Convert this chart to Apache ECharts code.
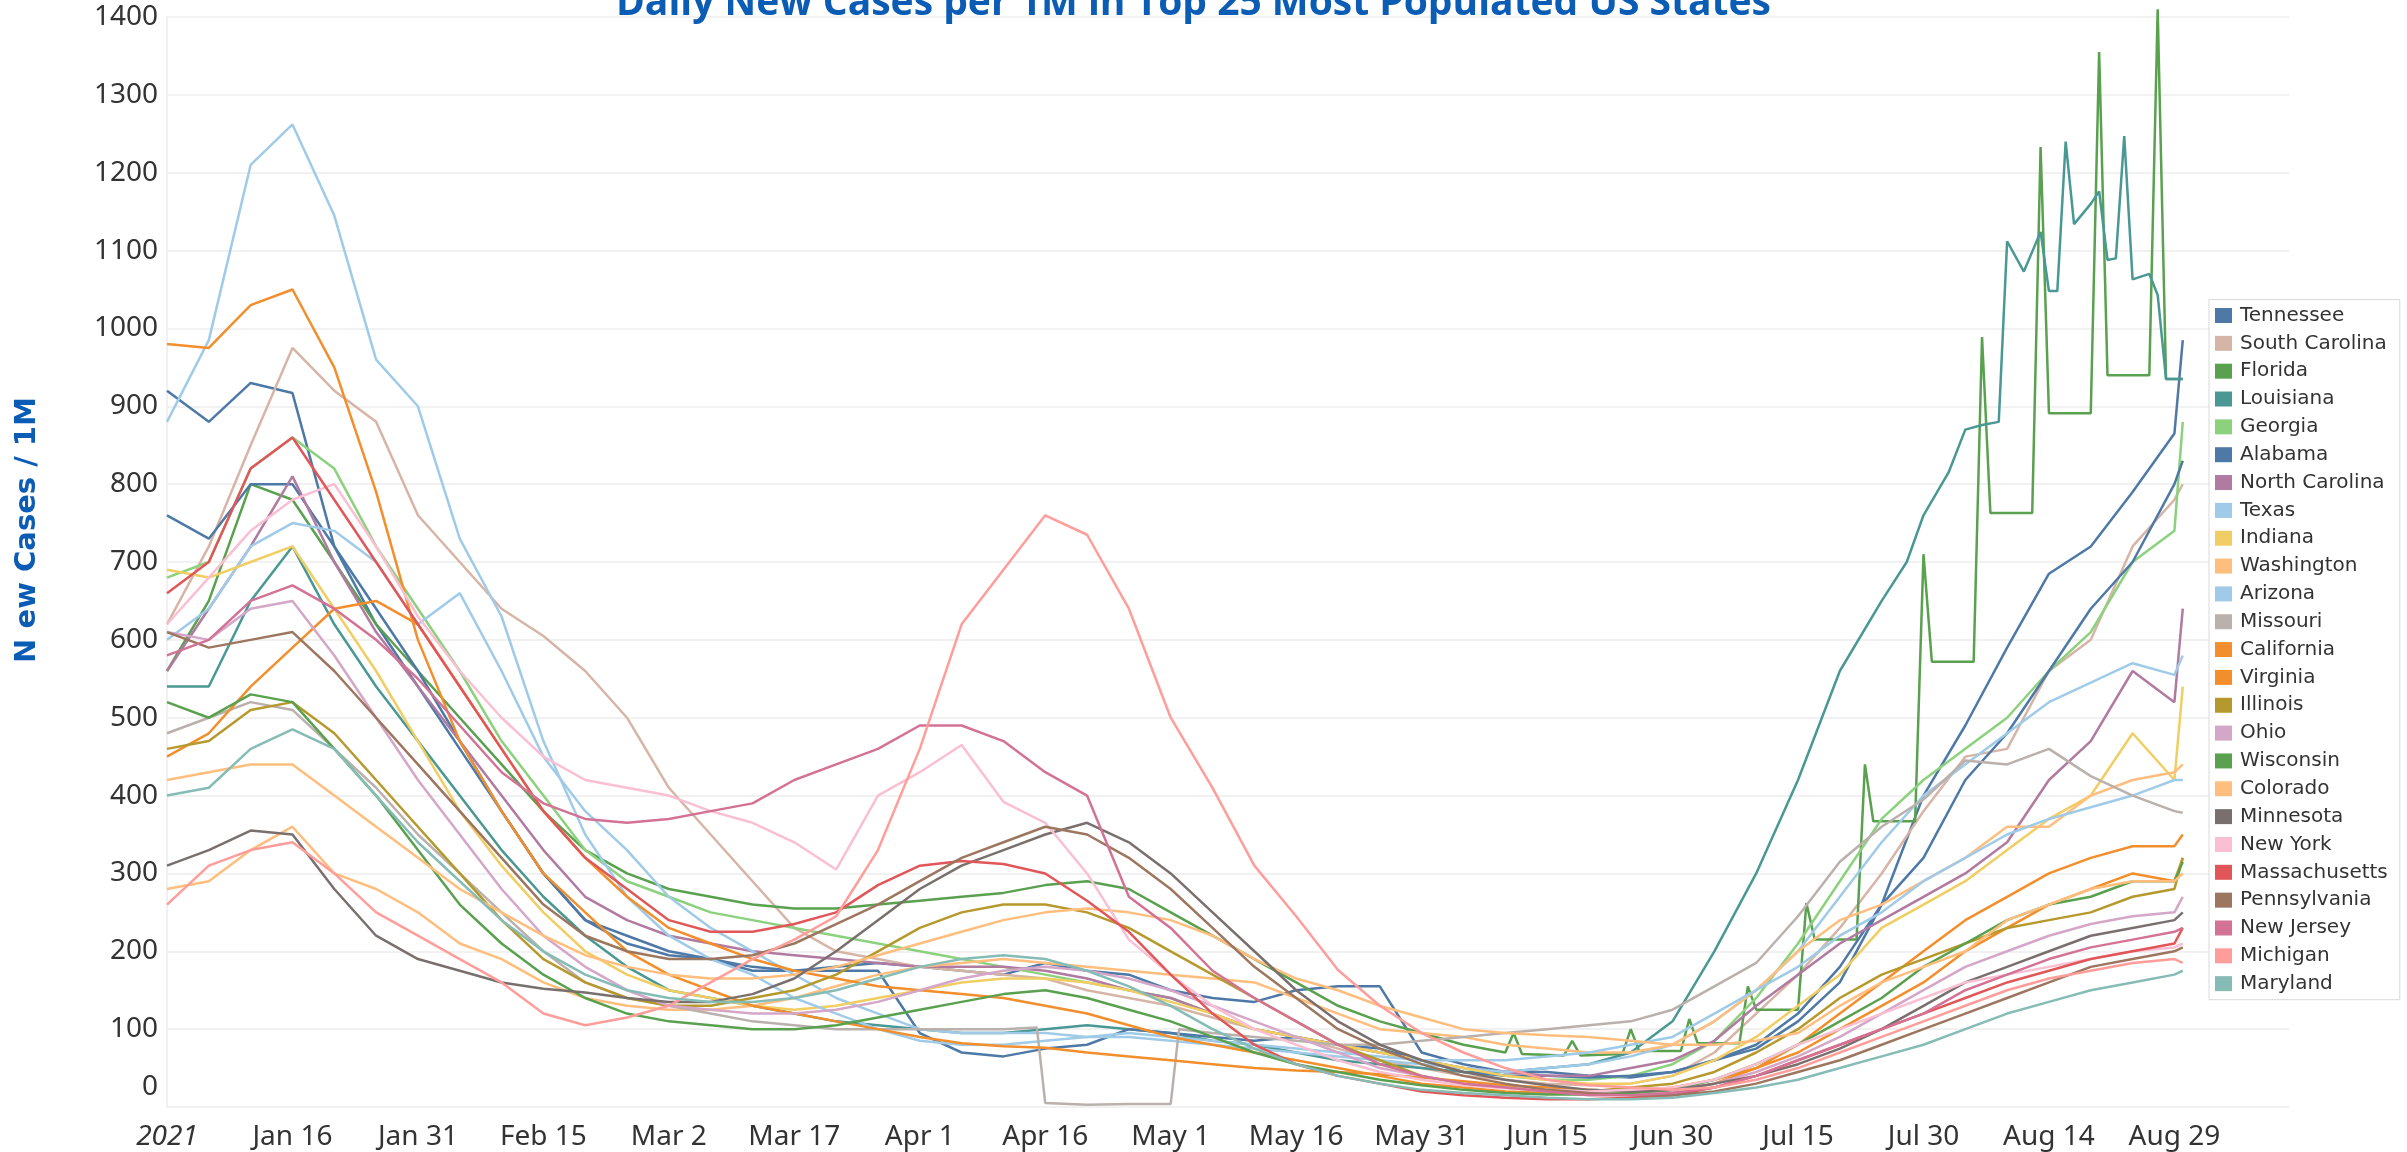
<!DOCTYPE html>
<html>
<head>
<meta charset="utf-8">
<title>Daily New Cases per 1M</title>
<script src="https://cdn.jsdelivr.net/npm/echarts@6/dist/echarts.min.js"></script>
<style>
html, body { margin: 0; padding: 0; background: #fff; }
#chart { width: 2407px; height: 1152px; }
</style>
</head>
<body>
<div id="chart"></div>
<script>
// x = day of year 2021 (0 = Jan 1)
var days = [0,5,10,15,20,25,30,35,40,45,50,55,60,65,70,75,80,85,90,95,100,105,110,115,120,125,130,135,140,145,150,155,160,165,170,175,180,185,190,195,200,205,210,215,220,225,230,235,240,241];

// Florida switched to weekly reports in summer, so it gets its own days
var floridaDays = [0,5,10,15,20,25,30,35,40,45,50,55,60,65,70,75,80,85,90,95,100,105,110,115,120,125,130,135,140,145,150,
	155,160,161,162,167,168,169,174,175,176,181,182,183,188,189,190,195,196,197,202,203,204,209,210,211,216,217,218,223,224,225,230,231,232,237,238,239,241];
var louisianaDays = [0,5,10,15,20,25,30,35,40,45,50,55,60,65,70,75,80,85,90,95,100,105,110,115,120,125,130,135,140,145,150,155,160,165,170,175,180,
	185,190,195,200,205,208,210,213,215,217,219,220,222,224,225,226,227,228,230,231,232,233,234,235,237,238,239,241];
var missouriDays = [0,5,10,15,20,25,30,35,40,45,50,55,60,65,70,75,80,85,90,95,100,104,105,110,115,120,121,
	125,130,135,140,145,150,155,160,165,170,175,180,185,190,195,200,205,210,215,220,225,230,235,240,241];

var tennessee = [920,880,930,917,720,620,540,460,380,300,240,210,195, 190,175,175,180,185,180,175,170,185,175,170,150,
	140,135,150,155,155,70,55,45,45,40,38,45, 60,75,110,160,260,400,490,590,685,720,790,865,985];
var southCarolina = [620,720,850,975,920,880,760,700,640,605,560,500,410, 350,290,230,200,190,180,175,170,165,150,140,130,
	115,100,90,75,60,50,40,35,30,28,30,40, 70,120,170,230,300,380,450,460,560,600,720,780,800];
var florida = [560,650,800,780,700,620,560,500,440,380,330,300,280,270,260,255,255,260,265,270,275,285,290,280,250,220,190,160,130,110,95,
	80,70,95,68,66,85,66,68,100,72,72,113,82,82,155,125,125,262,215,215,440,367,367,710,572,572,989,763,763,1233,891,891,1355,940,940,1410,935,935];
var louisiana = [540,540,650,720,620,540,470,400,330,270,220,180,150,140,130,120,110,105,100,95,95,100,105,100,95,85,80,70,60,55,50,45,45,50,55,70,110,
	200,300,420,560,650,700,760,815,870,876,880,1112,1073,1124,1048,1048,1240,1134,1160,1176,1088,1090,1247,1063,1070,1043,935,935];
var georgia = [680,700,820,860,820,720,640,560,470,400,330,290,270, 250,240,230,220,210,200,190,180,170,160,150,140,
	120,100,90,80,70,60,50,40,35,35,40,55, 85,140,210,290,370,420,460,500,560,610,700,740,880];
var alabama = [760,730,800,800,720,640,560,470,380,300,240,220,200, 190,180,175,175,175,95,70,65,75,80,100,95,
	90,85,90,80,75,60,45,40,40,38,40,45, 60,80,120,180,260,320,420,480,560,640,700,800,830];
var northCarolina = [560,640,720,810,700,610,540,470,400,330,270,240,220, 210,200,195,190,185,180,180,180,175,165,150,140,
	120,100,90,80,70,60,50,45,40,40,50,60, 85,130,170,210,240,270,300,340,420,470,560,520,640];
var texas = [600,640,720,750,740,700,620,660,560,450,380,330,270, 230,200,170,140,120,100,95,95,95,90,90,85,
	80,75,70,65,60,55,50,45,50,55,65,80, 110,150,200,270,340,400,440,480,520,545,570,555,580];
var indiana = [690,680,700,720,640,560,470,380,310,250,200,170,150, 140,130,125,130,140,150,160,165,165,160,150,135,
	120,100,90,80,70,60,50,40,35,30,30,40, 60,90,130,170,230,260,290,330,370,400,480,420,540];
var washington = [280,290,330,360,300,280,250,210,190,160,140,130,125, 125,130,140,155,170,180,185,190,185,180,175,170,
	165,160,140,120,100,95,90,80,75,70,70,80, 110,150,200,240,260,290,320,360,360,400,420,430,440];
var arizona = [880,985,1210,1262,1145,960,900,730,630,470,350,270,220, 190,170,140,120,100,85,80,80,85,90,95,90,
	85,80,75,70,65,60,60,60,65,70,80,90, 120,150,180,220,250,290,320,350,370,385,400,420,420];
var missouri = [480,500,520,510,460,410,350,300,250,200,160,140,130,120,110,105,100,100,100,100,100, 102,5,3,4,4,100,
	95,90,85,80,80,85,90,95,100,105,110,125,155,185,245,315,360,395,445,440,460,425,400,380,378];
var california = [980,975,1030,1050,950,790,600,470,380,300,250,200,170, 150,130,120,110,100,90,82,78,76,70,65,60,
	55,50,47,45,42,38,33,28,25,22,20,20, 30,50,80,120,160,200,240,270,300,320,335,335,350];
var virginia = [450,480,540,590,640,650,620,540,460,380,320,270,230, 210,190,175,165,155,150,145,140,130,120,105,90,
	80,70,60,50,40,30,25,20,18,18,20,25, 35,50,70,100,130,160,200,230,260,280,300,290,320];
var illinois = [460,470,510,520,480,420,360,300,240,190,160,140,130, 130,140,150,170,200,230,250,260,260,250,230,200,
	170,140,110,80,60,40,30,25,22,20,25,30, 45,70,100,140,170,190,210,230,240,250,270,280,320];
var ohio = [610,600,640,650,580,500,420,350,280,220,180,150,130, 125,120,120,125,135,150,165,175,180,175,165,150,
	130,110,90,70,50,40,30,25,20,18,18,20, 30,45,65,90,120,150,180,200,220,235,245,250,270];
var wisconsin = [520,500,530,520,460,400,330,260,210,170,140,120,110, 105,100,100,105,115,125,135,145,150,140,125,110,
	90,70,55,45,35,28,22,18,16,16,18,22, 35,55,80,110,140,180,210,240,260,270,290,290,315];
var colorado = [420,430,440,440,400,360,320,280,250,220,195,180,170, 165,165,170,180,195,210,225,240,250,255,250,240,
	220,190,165,150,130,115,100,95,92,90,85,80, 80,85,95,130,160,180,200,240,260,280,290,290,300];
var minnesota = [310,330,355,350,280,220,190,175,160,152,147,140,135, 135,145,165,200,240,280,310,330,350,365,340,300,
	250,200,150,110,80,60,45,35,28,22,20,22, 30,40,55,75,100,130,160,180,200,220,230,240,250];
var newYork = [620,680,740,780,800,720,630,560,500,450,420,410,400, 380,365,340,305,400,430,465,392,365,300,215,170,
	130,100,80,60,45,35,28,24,22,20,22,25, 35,55,80,100,120,140,160,170,180,190,200,205,210];
var massachusetts = [660,700,820,860,780,700,620,540,460,380,320,280,240, 225,225,235,250,285,310,316,312,300,265,225,170,
	120,80,55,40,30,20,15,12,10,10,12,15, 25,40,60,80,100,120,140,160,175,190,200,210,230];
var pennsylvania = [610,590,600,610,560,500,440,380,320,260,220,200,190, 190,195,210,235,260,290,320,340,360,350,320,280,
	230,180,140,100,75,55,40,30,22,18,15,15, 20,30,45,60,80,100,120,140,160,180,190,200,205];
var newJersey = [580,600,650,670,640,600,550,490,430,390,370,365,370, 380,390,420,440,460,490,490,470,430,400,270,230,
	175,140,110,80,55,40,30,25,20,15,15,18, 25,40,60,80,100,120,150,170,190,205,215,225,230];
var michigan = [260,310,330,340,300,250,220,190,160,120,105,115,130, 160,190,215,245,330,460,620,690,760,735,640,500,
	410,310,245,176,130,95,70,50,35,28,25,22, 25,35,50,70,90,110,130,150,165,175,185,190,185];
var maryland = [400,410,460,485,460,400,340,290,240,200,170,150,140, 135,135,140,150,165,180,190,195,190,175,155,130,
	100,75,55,40,30,22,18,15,12,10,10,12, 18,25,35,50,65,80,100,120,135,150,160,170,175];

var states = ['Tennessee','South Carolina','Florida','Louisiana','Georgia','Alabama','North Carolina','Texas','Indiana','Washington',
	'Arizona','Missouri','California','Virginia','Illinois','Ohio','Wisconsin','Colorado','Minnesota','New York',
	'Massachusetts','Pennsylvania','New Jersey','Michigan','Maryland'];
var stateColors = ['#4e79a7','#d7b5a6','#59a14f','#499894','#8cd17d','#4e79a7','#b07aa1','#a0cbe8','#f1ce63','#ffbe7d',
	'#a0cbe8','#bab0ac','#f28e2b','#f28e2b','#b6992d','#d4a6c8','#59a14f','#ffbe7d','#79706e','#fabfd2',
	'#e15759','#9d7660','#d37295','#ff9d9a','#86bcb6'];
var stateValues = [tennessee, southCarolina, florida, louisiana, georgia, alabama, northCarolina, texas, indiana, washington,
	arizona, missouri, california, virginia, illinois, ohio, wisconsin, colorado, minnesota, newYork,
	massachusetts, pennsylvania, newJersey, michigan, maryland];
var stateDays = [days, days, floridaDays, louisianaDays, days, days, days, days, days, days,
	days, missouriDays, days, days, days, days, days, days, days, days,
	days, days, days, days, days];

var monthNames = ['Jan','Feb','Mar','Apr','May','Jun','Jul','Aug','Sep'];
var labelFont = 'Noto Sans';
var blue = '#0b5cb5';

function dayLabel(v) {
	if (v % 15 !== 0) return '';
	if (v === 0) return '{yr|2021}';
	var d = new Date(2021, 0, 1 + v);
	return monthNames[d.getMonth()] + ' ' + d.getDate();
}

function buildSeries() {
	var list = [];
	for (var i = 0; i < states.length; i++) {
		var pts = [];
		for (var j = 0; j < stateValues[i].length; j++) {
			pts.push([stateDays[i][j], stateValues[i][j]]);
		}
		list.push({
			name: states[i],
			type: 'line',
			data: pts,
			showSymbol: false,
			symbol: 'none',
			clip: false,
			color: stateColors[i],
			lineStyle: { width: 2.5, color: stateColors[i] },
			emphasis: { disabled: true }
		});
	}
	return list;
}

var myChart = echarts.init(document.getElementById('chart'));
myChart.setOption({
	animation: false,
	title: {
		text: 'Daily New Cases per 1M in Top 25 Most Populated US States',
		left: 611,
		top: -21,
		textStyle: { fontFamily: 'Open Sans', fontWeight: 'bold', fontSize: 39, color: blue }
	},
	grid: { left: 167, right: 118, top: 17, bottom: 45 },
	legend: {
		orient: 'vertical',
		left: 2209,
		top: 299.5,
		padding: [6, 12, 6, 6],
		itemWidth: 17,
		itemHeight: 15,
		itemGap: 7.84,
		icon: 'rect',
		backgroundColor: '#fff',
		borderColor: '#d9d9d9',
		borderWidth: 1,
		selectedMode: false,
		textStyle: { fontFamily: 'DejaVu Sans', fontSize: 20, color: '#333', padding: [0, 0, 0, 3] },
		data: states
	},
	xAxis: {
		type: 'value',
		min: 0,
		max: 253.7,
		interval: 15,
		axisLine: { show: false },
		axisTick: { show: false },
		splitLine: { show: false },
		axisLabel: {
			margin: 16,
			fontFamily: labelFont,
			fontSize: 28,
			color: '#333',
			showMaxLabel: false,
			formatter: dayLabel,
			rich: { yr: { fontFamily: labelFont, fontSize: 28, color: '#333', fontStyle: 'italic' } }
		}
	},
	yAxis: {
		type: 'value',
		min: 0,
		max: 1400,
		interval: 100,
		axisLine: { show: true, lineStyle: { color: '#ececec', width: 1.5 } },
		axisTick: { show: false },
		splitLine: { lineStyle: { color: '#ececec', width: 1.5 } },
		axisLabel: {
			margin: 9,
			fontFamily: labelFont,
			fontSize: 28,
			color: '#333',
			formatter: function (v) { return v === 0 ? '{zero|0}' : v; },
			rich: { zero: { fontFamily: labelFont, fontSize: 28, color: '#333', padding: [0, 0, 40, 0] } }
		}
	},
	graphic: [{
		type: 'text',
		x: 27,
		y: 530,
		rotation: Math.PI / 2,
		style: {
			text: 'N ew Cases / 1M',
			font: 'bold 29px "DejaVu Sans"',
			fill: blue,
			align: 'center',
			verticalAlign: 'middle',
			textAlign: 'center',
			textVerticalAlign: 'middle'
		}
	}],
	series: buildSeries()
});
</script>
</body>
</html>
